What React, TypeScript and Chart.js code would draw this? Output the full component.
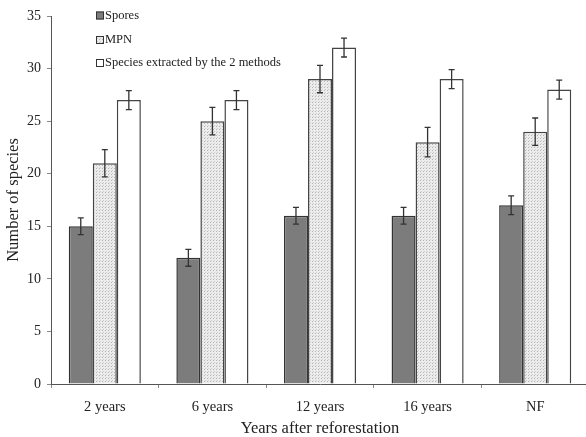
import React, { useEffect, useRef } from "react";
import { Chart, registerables } from "chart.js";

Chart.register(...registerables);

const categories = ["2 years", "6 years", "12 years", "16 years", "NF"];
const seriesNames = ["Spores", "MPN", "Species extracted by the 2 methods"];
const sporesValues = [15, 12, 16, 16, 17];
const sporesErrors = [0.8, 0.8, 0.8, 0.8, 0.9];
const mpnValues = [21, 25, 29, 23, 24];
const mpnErrors = [1.3, 1.3, 1.3, 1.4, 1.3];
const bothValues = [27, 27, 32, 29, 28];
const bothErrors = [0.9, 0.9, 0.9, 0.9, 0.9];
const yTicks = [0, 5, 10, 15, 20, 25, 30, 35];

const errorsBySeries = [sporesErrors, mpnErrors, bothErrors];

function makeDotPattern(): CanvasPattern | string {
  const c = document.createElement("canvas");
  c.width = 3;
  c.height = 3;
  const g = c.getContext("2d");
  if (!g) return "#e0e0e0";
  g.fillStyle = "#ececec";
  g.fillRect(0, 0, 3, 3);
  g.fillStyle = "#b4b4b4";
  g.fillRect(0, 0, 1, 1);
  g.fillStyle = "#cfcfcf";
  g.fillRect(1, 2, 1, 1);
  const p = g.createPattern(c, "repeat");
  return p || "#e0e0e0";
}

export default function App() {
  const ref = useRef<HTMLCanvasElement>(null);

  useEffect(() => {
    if (!ref.current) return;
    const dots = makeDotPattern();
    const fills: (string | CanvasPattern)[] = ["#7c7c7c", dots, "#ffffff"];

    const errorBars = {
      id: "errorBars",
      afterDatasetsDraw(chart: any) {
        const ctx = chart.ctx;
        const y = chart.scales.y;
        ctx.save();
        ctx.strokeStyle = "#333333";
        ctx.lineWidth = 1.3;
        chart.data.datasets.forEach((ds: any, i: number) => {
          const meta = chart.getDatasetMeta(i);
          meta.data.forEach((bar: any, j: number) => {
            const v = ds.data[j];
            const e = errorsBySeries[i][j];
            const x = bar.x;
            const yt = y.getPixelForValue(v + e);
            const yb = y.getPixelForValue(v - e);
            ctx.beginPath();
            ctx.moveTo(x, yt);
            ctx.lineTo(x, yb);
            ctx.moveTo(x - 3, yt);
            ctx.lineTo(x + 3, yt);
            ctx.moveTo(x - 3, yb);
            ctx.lineTo(x + 3, yb);
            ctx.stroke();
          });
        });
        ctx.restore();
      },
    };

    const legendPlugin = {
      id: "customLegend",
      afterDraw(chart: any) {
        const ctx = chart.ctx;
        const ys = [15.5, 40, 63];
        ctx.save();
        ctx.font = "12.5px 'Liberation Serif', serif";
        ctx.textBaseline = "middle";
        seriesNames.forEach((name, i) => {
          const cy = ys[i];
          ctx.fillStyle = fills[i];
          ctx.fillRect(96, cy - 4, 8, 8);
          ctx.strokeStyle = "#333333";
          ctx.lineWidth = 1;
          ctx.strokeRect(96.5, cy - 3.5, 7, 7);
          ctx.fillStyle = "#222222";
          ctx.fillText(name, 105, cy);
        });
        ctx.restore();
      },
    };

    const chart = new Chart(ref.current, {
      type: "bar",
      data: {
        labels: categories,
        datasets: [
          { label: seriesNames[0], data: sporesValues, backgroundColor: fills[0] as any, borderColor: "#333333", borderWidth: 1.5 },
          { label: seriesNames[1], data: mpnValues, backgroundColor: fills[1] as any, borderColor: "#444444", borderWidth: 1.5 },
          { label: seriesNames[2], data: bothValues, backgroundColor: fills[2] as any, borderColor: "#444444", borderWidth: 1.5 },
        ],
      },
      options: {
        responsive: false,
        animation: false,
        layout: { padding: { left: 0, right: 3, top: 16, bottom: 0 } },
        datasets: { bar: { categoryPercentage: 0.67, barPercentage: 1.0 } },
        plugins: { legend: { display: false }, tooltip: { enabled: false } },
        scales: {
          x: {
            grid: { display: true, drawOnChartArea: false, drawTicks: true, tickLength: 4, color: "#888888", offset: true },
            border: { display: true, color: "#555555", width: 1 },
            ticks: { color: "#222222", font: { family: "'Liberation Serif', serif", size: 14.5 }, padding: 10 },
            title: {
              display: true,
              text: "Years after reforestation",
              color: "#222222",
              font: { family: "'Liberation Serif', serif", size: 16.5 },
              padding: { top: 0, bottom: -2 },
            },
            afterFit(scale: any) {
              scale.height = 53;
            },
          },
          y: {
            min: 0,
            max: 35,
            afterBuildTicks(scale: any) {
              scale.ticks = yTicks.map((v) => ({ value: v }));
            },
            grid: { display: true, drawOnChartArea: false, drawTicks: true, tickLength: 4, color: "#888888" },
            border: { display: true, color: "#555555", width: 1 },
            ticks: { color: "#222222", font: { family: "'Liberation Serif', serif", size: 14 }, padding: 6 },
            title: {
              display: true,
              text: "Number of species",
              color: "#222222",
              font: { family: "'Liberation Serif', serif", size: 16.5 },
              padding: { top: 4, bottom: 0 },
            },
            afterFit(scale: any) {
              scale.width = 51;
            },
          },
        },
      },
      plugins: [errorBars, legendPlugin],
    });
    return () => chart.destroy();
  }, []);

  return (
    <div style={{ position: "absolute", left: 0, top: 0, width: 586, height: 437, overflow: "hidden", background: "#fff" }}>
      <canvas ref={ref} width={592} height={437} style={{ width: 592, height: 437, display: "block" }} />
    </div>
  );
}
